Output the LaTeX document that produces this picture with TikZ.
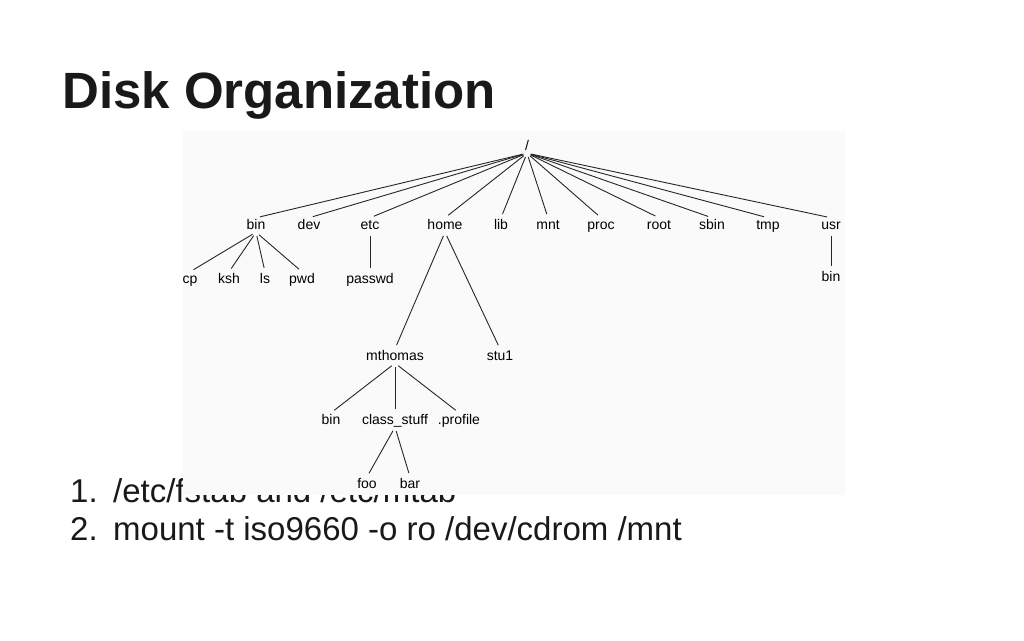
\documentclass[tikz,border=0pt]{standalone}
\usepackage{fontspec}
\setmainfont{Liberation Sans}
\begin{document}
\begin{tikzpicture}[x=1pt,y=-1pt,
  lab/.style={font=\fontsize{14}{15}\selectfont, inner sep=1pt, text height=10pt, text depth=2pt},
  ln/.style={draw=black!85, line width=0.9pt, shorten <=4pt, shorten >=4pt},
  li/.style={anchor=west, font=\fontsize{33}{36}\selectfont, text=black!90, inner sep=0pt}]
\useasboundingbox (0,0) rectangle (1024,640);
\fill[white] (0,0) rectangle (1024,640);
\node[anchor=west, font=\fontsize{51}{55}\selectfont\bfseries, text=black!90, inner sep=0pt] (title) at (62,95) {Disk Organization};
\node[li] (n1) at (70,491) {1.};
\node[li] (l1) at (113,491) {/etc/fstab and /etc/mtab};
\node[li] (n2) at (70,529) {2.};
\node[li] (l2) at (113,529) {mount -t iso9660 -o ro /dev/cdrom /mnt};
\fill[black!2] (183,131) rectangle (845,495);
\node[lab] (r) at (527,146) {/};
\foreach \n/\t/\x in {bin/bin/256, dev/dev/309, etc/etc/370, home/home/445, lib/lib/501, mnt/mnt/548, proc/proc/601, root/root/659, sbin/sbin/712, tmp/tmp/768, usr/usr/831}
  {\node[lab] (\n) at (\x,225) {\t}; \draw[ln] (r.south) -- (\n.north);}
\foreach \n/\t/\x in {cp/cp/190, ksh/ksh/229, ls/ls/265, pwd/pwd/302}
  {\node[lab] (\n) at (\x,279) {\t}; \draw[ln] (bin.south) -- (\n.north);}
\node[lab] (passwd) at (370,279) {passwd}; \draw[ln] (etc) -- (passwd);
\node[lab] (ubin) at (831,277) {bin}; \draw[ln] (usr) -- (ubin);
\node[lab] (mth) at (395,356) {mthomas}; \draw[ln] (home.south) -- (mth.north);
\node[lab] (stu) at (500,356) {stu1}; \draw[ln] (home.south) -- (stu.north);
\node[lab] (mbin) at (331,420) {bin}; \draw[ln] (mth.south) -- (mbin.north);
\node[lab] (cs) at (395,420) {class\_stuff}; \draw[ln] (mth.south) -- (cs.north);
\node[lab] (prof) at (459,420) {.profile}; \draw[ln] (mth.south) -- (prof.north);
\node[lab] (foo) at (367,484) {foo}; \draw[ln] (cs.south) -- (foo.north);
\node[lab] (bar) at (410,484) {bar}; \draw[ln] (cs.south) -- (bar.north);
\end{tikzpicture}
\end{document}
